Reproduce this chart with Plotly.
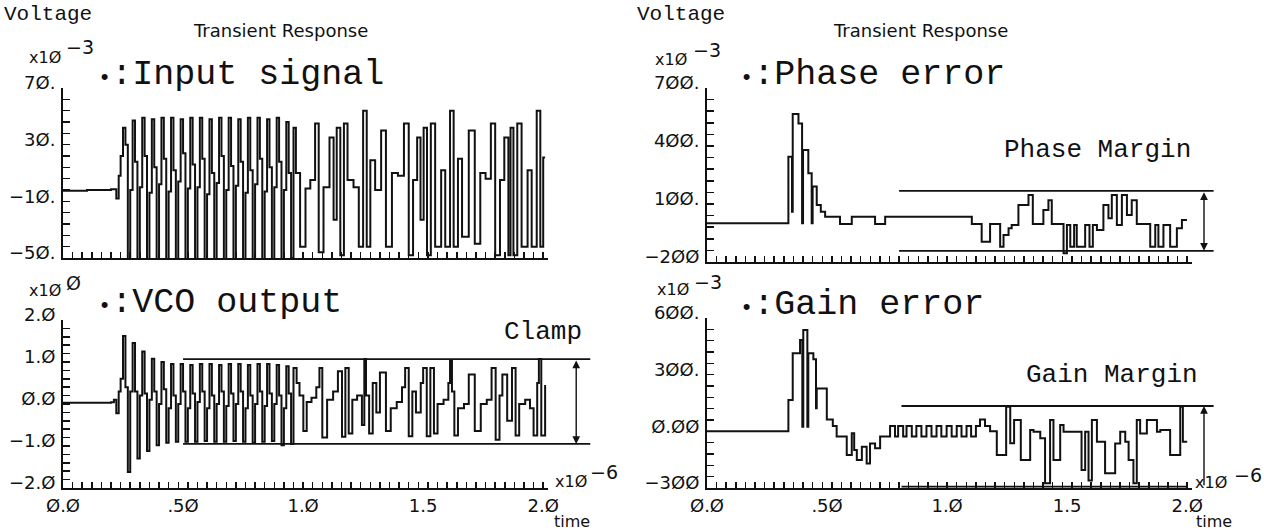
import plotly.graph_objects as go

W, H = 1264, 531

time_ticks = [0.0, 0.5, 1.0, 1.5, 2.0]
time_tick_text = ["Ø.Ø", ".5Ø", "1.Ø", "1.5", "2.Ø"]

# Input signal (x1e-3 V)
input_lead_t = [0.0, 0.10, 0.20, 0.222, 0.232]
input_lead_v = [-2.5, -2.0, -1.5, -8.0, 8.0]
input_reg_t0 = 0.24
input_reg_dt = 0.01
input_reg_v = [
    22, 42, 30, -52,   -2, 47, 18, -52,   0, 49, 22, -52,   -4, 48, 14, -52,
    2, 49, 20, -52,    -3, 49, 12, -52,   4, 48, 24, -52,   -1, 49, 16, -52,
    0, 49, 20, -52,    -5, 48, 10, -52,   3, 49, 22, -52,   -2, 49, 15, -52,
    1, 48, 18, -52,    -4, 49, 12, -52,   2, 49, 20, -52,   -3, 48, 14, -52,
    0, 49, 18, -52,    -2, 46, 10, -50,
]
input_irr_t = [0.960, 0.970, 0.9875, 1.010, 1.030, 1.050, 1.065, 1.085, 1.110, 1.127,
               1.140, 1.155, 1.170, 1.185, 1.210, 1.232, 1.250, 1.265, 1.280, 1.300,
               1.325, 1.345, 1.370, 1.395, 1.420, 1.440, 1.458, 1.475, 1.489, 1.502,
               1.516, 1.532, 1.550, 1.575, 1.592, 1.612, 1.627, 1.645, 1.662, 1.690,
               1.715, 1.738, 1.760, 1.782, 1.800, 1.820, 1.838, 1.855, 1.864, 1.876,
               1.892, 1.910, 1.935, 1.952, 1.973, 1.988, 2.000, 2.008]
input_irr_v = [42, 10, -42, -1, 5, 45, -46, 0, 35, -23,
               42, -48, 45, 5, 0, -42, 54, -42, 19, -2,
               40, -42, 10, 8, 45, -48, 5, 35, -23, 42,
               -48, 45, -42, 12, -42, 54, -42, 20, -35, 40,
               -40, 10, 6, 45, -48, 5, 35, -48, 42, -48,
               45, -42, 12, -42, 54, -42, 21, 21]

# VCO output (V)
vco_lead_t = [0.0, 0.20, 0.212, 0.222, 0.232]
vco_lead_v = [0.03, 0.04, 0.10, -0.22, 0.30]
vco_reg_t0 = 0.24
vco_reg_dt = 0.01
vco_reg_v = [
    0.6, 1.62, 0.4, -1.62,   0.3, 1.45, 0.3, -1.30,   0.2, 1.25, 0.25, -1.12,
    0.1, 1.08, 0.3, -0.98,   0.0, 1.00, 0.35, -0.92,  -0.1, 0.95, 0.2, -0.90,
    0.0, 0.95, 0.3, -0.90,   -0.1, 0.93, 0.25, -0.90, 0.05, 0.95, 0.3, -0.88,
    -0.1, 0.95, 0.2, -0.90,  0.0, 0.93, 0.3, -0.90,   -0.05, 0.95, 0.25, -0.88,
    0.0, 0.95, 0.3, -0.90,   -0.1, 0.93, 0.2, -0.92,  0.0, 0.95, 0.3, -0.90,
    -0.05, 0.95, 0.25, -0.88, 0.0, 0.93, 0.2, -0.98,  -0.1, 0.90, 0.25, -0.95,
]
vco_irr_t = [0.960, 0.973, 0.985, 1.001, 1.015, 1.035, 1.055, 1.068, 1.080, 1.100,
             1.125, 1.145, 1.162, 1.176, 1.190, 1.205, 1.225, 1.245, 1.255, 1.262,
             1.275, 1.290, 1.305, 1.320, 1.345, 1.365, 1.390, 1.412, 1.425, 1.440,
             1.455, 1.470, 1.490, 1.500, 1.515, 1.530, 1.545, 1.560, 1.585, 1.605,
             1.612, 1.620, 1.630, 1.645, 1.670, 1.690, 1.715, 1.740, 1.765, 1.785,
             1.802, 1.818, 1.830, 1.850, 1.870, 1.885, 1.900, 1.925, 1.945, 1.960,
             1.975, 1.982, 1.992, 2.008, 2.012]
vco_irr_v = [0.86, 0.5, 0.2, -0.64, 0.05, 0.15, 0.4, 0.86, -0.8, 0.1,
             0.3, 0.78, -0.78, 0.86, -0.7, 0.1, 0.2, -0.5, 1.07, 0.2,
             -0.7, 0.5, -0.2, 0.75, -0.64, -0.1, 0.05, 0.4, 0.86, -0.77,
             0.3, -0.2, 0.5, 0.86, -0.77, 0.86, -0.7, 0.0, 0.1, 0.5,
             1.05, 0.3, -0.75, -0.1, 0.0, 0.7, -0.64, 0.0, 0.1, 0.86,
             -0.85, 0.2, 0.7, -0.4, 0.86, -0.75, 0.0, 0.1, -0.1, -0.75,
             0.5, 1.07, -0.75, 0.43, 0.43]
clamp_hi, clamp_lo = 1.07, -0.95
clamp_t = [0.50, 2.196]
clamp_arrow_t = 2.1375

# Phase error (x1e-3 V)
phase_t = [0.0, 0.339, 0.354, 0.357, 0.381, 0.396, 0.400, 0.422, 0.436, 0.440,
           0.457, 0.474, 0.492, 0.554, 0.603, 0.700, 0.742, 1.103, 1.144, 1.179,
           1.221, 1.235, 1.256, 1.269, 1.297, 1.339, 1.357, 1.401, 1.422, 1.436,
           1.485, 1.499, 1.513, 1.529, 1.540, 1.575, 1.593, 1.607, 1.624, 1.651,
           1.672, 1.686, 1.707, 1.728, 1.749, 1.769, 1.790, 1.846, 1.867, 1.880,
           1.901, 1.929, 1.957, 1.978, 1.999]
phase_v = [0, 345, 60, 565, 517, 0, 379, 259, 0, 190,
           95, 60, 34, -4, 34, -4, 34, -4, -95, -4,
           -121, -60, -26, -9, 95, 146, -4, 69, 120, -4,
           -155, -9, -121, -9, -121, -9, -121, -9, -35, 95,
           26, 146, -9, 146, 43, 120, -4, -121, -9, -121,
           -9, -121, -26, 17, 17]
phase_hi, phase_lo = 168, -142
phase_margin_t = [0.80, 2.11]
phase_arrow_t = 2.07

# Gain error (x1e-3 V)
gain_t = [0.0, 0.339, 0.357, 0.3875, 0.397, 0.401, 0.418, 0.422, 0.443, 0.454,
          0.457, 0.499, 0.524, 0.540, 0.582, 0.603, 0.613, 0.624, 0.645, 0.665,
          0.679, 0.700, 0.721, 0.7625, 0.783, 0.796, 0.817, 0.831, 0.853, 0.872,
          0.893, 0.914, 0.935, 0.956, 0.976, 0.998, 1.019, 1.040, 1.060, 1.081,
          1.100, 1.120, 1.137, 1.158, 1.179, 1.207, 1.246, 1.263, 1.279, 1.307,
          1.346, 1.360, 1.388, 1.408, 1.429, 1.443, 1.471, 1.485, 1.560, 1.575,
          1.589, 1.603, 1.624, 1.658, 1.700, 1.721, 1.742, 1.756, 1.776, 1.790,
          1.804, 1.832, 1.874, 1.888, 1.929, 1.971, 1.982, 2.000]
gain_v = [0, 166, 413, 483, 24, 536, 24, 413, 381, 122,
          227, 63, 28, -28, -125, -10, -99, -152, -81, -170,
          -64, -90, -28, 28, -28, 28, -28, 28, -28, 28,
          -28, 28, -28, 28, -28, 28, -28, 28, -28, 28,
          -28, 28, 63, 28, 0, -125, 130, -63, 60, -152,
          7, -2, -37, -275, 60, -152, 33, -2, -205, -2,
          -260, 60, -55, -222, -64, -2, -55, -152, -275, 60,
          -11, 60, -2, 7, -125, 130, -55, -55]
gain_hi, gain_lo = 134, -293
gain_margin_t = [0.81, 2.11]
gain_lo_t = [0.81, 2.0]
gain_arrow_t = 2.07

# ---------------- build series ----------------
def series(lead_t, lead_v, t0, dt, reg_v, irr_t, irr_v):
    t = list(lead_t) + [t0 + i * dt for i in range(len(reg_v))] + list(irr_t)
    v = list(lead_v) + list(reg_v) + list(irr_v)
    return t, v

input_t, input_v = series(input_lead_t, input_lead_v, input_reg_t0, input_reg_dt,
                          input_reg_v, input_irr_t, input_irr_v)
vco_t, vco_v = series(vco_lead_t, vco_lead_v, vco_reg_t0, vco_reg_dt,
                      vco_reg_v, vco_irr_t, vco_irr_v)

# ---------------- geometry helpers (pixels -> paper) ----------------
def fx(px):
    return px / W

def fy(py):
    return 1 - py / H

T_MAX = 2.02
LX0, LX1 = 63, 548
RX0, RX1 = 707, 1192
PX_PER_T = (LX1 - LX0) / T_MAX

INK = "#111111"
SANS = "DejaVu Sans"
MONO = "Liberation Mono"

fig = go.Figure()

line = dict(color=INK, width=2, shape="hv")
fig.add_trace(go.Scatter(x=input_t, y=input_v, mode="lines", line=line, xaxis="x", yaxis="y"))
fig.add_trace(go.Scatter(x=vco_t, y=vco_v, mode="lines", line=line, xaxis="x2", yaxis="y2"))
fig.add_trace(go.Scatter(x=phase_t, y=phase_v, mode="lines", line=line, xaxis="x3", yaxis="y3"))
fig.add_trace(go.Scatter(x=gain_t, y=gain_v, mode="lines", line=line, xaxis="x4", yaxis="y4"))

ref_line = dict(color=INK, width=1.8)
for lvl in (clamp_hi, clamp_lo):
    fig.add_trace(go.Scatter(x=clamp_t, y=[lvl, lvl], mode="lines", line=ref_line, xaxis="x5", yaxis="y5"))
for lvl in (phase_hi, phase_lo):
    fig.add_trace(go.Scatter(x=phase_margin_t, y=[lvl, lvl], mode="lines", line=ref_line, xaxis="x6", yaxis="y6"))
fig.add_trace(go.Scatter(x=gain_margin_t, y=[gain_hi, gain_hi], mode="lines", line=ref_line, xaxis="x7", yaxis="y7"))
fig.add_trace(go.Scatter(x=gain_lo_t, y=[gain_lo, gain_lo], mode="lines", line=ref_line, xaxis="x7", yaxis="y7"))

tickfont = dict(family=SANS, size=18, color=INK)

def xaxis_cfg(x0, x1, anchor, labels):
    return dict(domain=[fx(x0), fx(x1)], range=[0, T_MAX], anchor=anchor, automargin=False,
                showline=True, linecolor=INK, linewidth=2, showgrid=False, zeroline=False,
                ticks="inside", ticklen=0, tickvals=time_ticks, ticktext=time_tick_text,
                showticklabels=labels, tickfont=tickfont, ticklabelstandoff=0,
                minor=dict(tickmode="linear", tick0=0, dtick=0.04, ticks="inside",
                           ticklen=6, tickwidth=1.5, tickcolor=INK, showgrid=False),
                fixedrange=True)

def yaxis_cfg(py0, py1, rng, anchor, vals, text, mdt):
    return dict(domain=[fy(py1), fy(py0)], range=rng, anchor=anchor, automargin=False,
                showline=True, linecolor=INK, linewidth=2, showgrid=False, zeroline=False,
                ticks="inside", ticklen=7, tickwidth=1.5, tickcolor=INK,
                tickvals=vals, ticktext=text, tickfont=tickfont, ticklabelshift=-5,
                ticklabelstandoff=2,
                minor=dict(tickmode="linear", tick0=rng[0], dtick=mdt, ticks="inside",
                           ticklen=7, tickwidth=1.5, tickcolor=INK, showgrid=False),
                fixedrange=True)

def hidden_x(x0, x1, anchor):
    return dict(domain=[fx(x0), fx(x1)], range=[0, (x1 - x0) / PX_PER_T], anchor=anchor,
                visible=False, automargin=False, fixedrange=True)

def hidden_y(py0, py1, rng, anchor):
    return dict(domain=[fy(py1), fy(py0)], range=rng, anchor=anchor, visible=False,
                automargin=False, fixedrange=True)

layout = dict(
    template="none",
    width=W, height=H, autosize=False,
    margin=dict(l=0, r=0, t=0, b=0, pad=0, autoexpand=False),
    paper_bgcolor="white", plot_bgcolor="rgba(0,0,0,0)",
    showlegend=False, hovermode=False,
    xaxis=xaxis_cfg(LX0, LX1, "y", False),
    yaxis=yaxis_cfg(88, 258, [-50, 70], "x", [70, 30, -10, -50], ["7Ø.", "3Ø.", "−1Ø.", "−5Ø."], 8),
    xaxis2=xaxis_cfg(LX0, LX1, "y2", True),
    yaxis2=yaxis_cfg(320, 488, [-2, 2], "x2", [2, 1, 0, -1, -2], ["2.Ø", "1.Ø", "Ø.Ø", "−1.Ø", "−2.Ø"], 0.2),
    xaxis3=xaxis_cfg(RX0, RX1, "y3", False),
    yaxis3=yaxis_cfg(88, 262, [-200, 700], "x3", [700, 400, 100, -200], ["7ØØ.", "4ØØ.", "1ØØ.", "−2ØØ"], 60),
    xaxis4=xaxis_cfg(RX0, RX1, "y4", True),
    yaxis4=yaxis_cfg(318, 488, [-300, 600], "x4", [600, 300, 0, -300], ["6ØØ.", "3ØØ.", "Ø.ØØ", "−3ØØ"], 60),
    xaxis5=hidden_x(LX0, 605, "y5"),
    yaxis5=hidden_y(320, 488, [-2, 2], "x5"),
    xaxis6=hidden_x(RX0, 1230, "y6"),
    yaxis6=hidden_y(88, 262, [-200, 700], "x6"),
    xaxis7=hidden_x(RX0, 1230, "y7"),
    yaxis7=hidden_y(318, 488, [-300, 600], "x7"),
)
fig.update_layout(**layout)

anns = []

def text(t, px, py, size, family=SANS, xanchor="left"):
    anns.append(dict(text=t, x=fx(px), y=fy(py), xref="paper", yref="paper",
                     xanchor=xanchor, yanchor="middle", showarrow=False,
                     font=dict(family=family, size=size, color=INK)))

BULLET = "<span style='font-size:22px'>•</span>"

# left column
text("Voltage", 2, 15, 21, MONO)
text("Transient Response", 280, 31, 18, SANS, "center")
text("x1Ø", 27, 57, 16)
text("−3", 64, 47, 19)
text(BULLET + ":Input signal", 96, 75, 35, MONO)
text("x1Ø", 27, 291, 16)
text("Ø", 64, 283, 19)
text(BULLET + ":VCO output", 96, 303, 35, MONO)
text("Clamp", 543, 332, 26, MONO, "center")
text("x1Ø", 553, 481, 16)
text("−6", 588, 472, 19)
text("time", 572, 521, 16, SANS, "center")
# right column
text("Voltage", 635, 15, 21, MONO)
text("Transient Response", 920, 31, 18, SANS, "center")
text("x1Ø", 653, 59, 16)
text("−3", 691, 50, 19)
text(BULLET + ":Phase error", 738, 75, 35, MONO)
text("Phase Margin", 1097, 150, 26, MONO, "center")
text("x1Ø", 655, 289, 16)
text("−3", 692, 282, 19)
text(BULLET + ":Gain error", 738, 305, 35, MONO)
text("Gain Margin", 1112, 375, 26, MONO, "center")
text("x1Ø", 1193, 483, 16)
text("−6", 1232, 475, 19)
text("time", 1214, 521, 16, SANS, "center")

# double-headed margin arrows (data coordinates on the overlay subplots)
anns.append(dict(text="", x=clamp_arrow_t, y=clamp_lo, ax=clamp_arrow_t, ay=clamp_hi,
                 xref="x5", yref="y5", axref="x5", ayref="y5", showarrow=True,
                 arrowhead=2, arrowside="end+start", arrowsize=1.1, arrowwidth=1.4, arrowcolor=INK))
anns.append(dict(text="", x=phase_arrow_t, y=phase_lo, ax=phase_arrow_t, ay=phase_hi,
                 xref="x6", yref="y6", axref="x6", ayref="y6", showarrow=True,
                 arrowhead=2, arrowside="end+start", arrowsize=1.1, arrowwidth=1.4, arrowcolor=INK))
anns.append(dict(text="", x=gain_arrow_t, y=gain_hi, ax=gain_arrow_t, ay=gain_lo,
                 xref="x7", yref="y7", axref="x7", ayref="y7", showarrow=True,
                 arrowhead=2, arrowsize=1.1, arrowwidth=1.4, arrowcolor=INK))

fig.update_layout(annotations=anns)
fig.write_html("out.html",
               config={"displayModeBar": False, "staticPlot": True},
               post_script="document.body.style.margin='0';document.body.style.overflow='hidden';")
